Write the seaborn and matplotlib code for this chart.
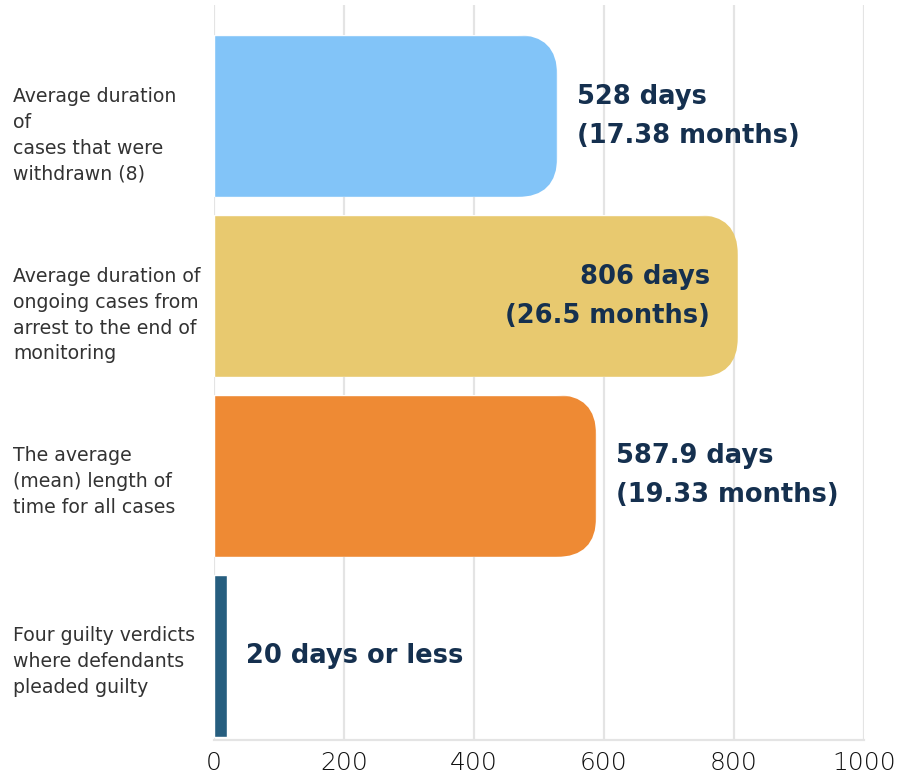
import matplotlib
matplotlib.use("Agg")
import matplotlib.pyplot as plt
from matplotlib.patches import FancyBboxPatch
from matplotlib.transforms import ScaledTranslation
import seaborn as sns
import pandas as pd

# Data
categories = [
    "Average duration\nof\ncases that were\nwithdrawn (8)",
    "Average duration of\nongoing cases from\narrest to the end of\nmonitoring",
    "The average\n(mean) length of\ntime for all cases",
    "Four guilty verdicts\nwhere defendants\npleaded guilty",
]
days = [528, 806, 587.9, 20]
value_labels = [
    "528 days\n(17.38 months)",
    "806 days\n(26.5 months)",
    "587.9 days\n(19.33 months)",
    "20 days or less",
]
colors = ["#82C4F8", "#E8C96F", "#EE8A34", "#265E7F"]
x_ticks = [0, 200, 400, 600, 800, 1000]

df = pd.DataFrame({"category": categories, "days": days})

sns.set_theme(style="white")
plt.rcParams["font.family"] = ["DejaVu Sans"]

W, H = 909, 780
fig = plt.figure(figsize=(W / 100, H / 100), dpi=100)
left_px, right_px, top_px, bottom_px = 214, 864, 5, 740
ax = fig.add_axes([left_px / W, 1 - bottom_px / H,
                   (right_px - left_px) / W, (bottom_px - top_px) / H])

sns.barplot(data=df, x="days", y="category", hue="category", palette=colors,
            orient="h", width=0.9, legend=False, ax=ax, saturation=1)

ax.set_xlim(0, 1000)
ax.set_ylim(3.467, -0.617)
ax.set_xticks(x_ticks)
ax.set_xticklabels([str(t) for t in x_ticks], fontsize=18, fontweight="light",
                   color="#111111")
ax.set_xlabel("")
ax.set_ylabel("")

# Rounded right ends on the long bars
ax_w_px = right_px - left_px
ax_h_px = bottom_px - top_px
x_per_px = 1000 / ax_w_px
y_per_px = (3.467 + 0.617) / ax_h_px
radius_px = 40
rx = radius_px * x_per_px
aspect = y_per_px / x_per_px
for patch in ax.patches:
    x0, y0 = patch.get_x(), patch.get_y()
    w, h = patch.get_width(), patch.get_height()
    if w < 3 * rx:
        continue
    clip = FancyBboxPatch((x0 - rx, y0), w + rx, h,
                          boxstyle=f"round,pad=0,rounding_size={rx}",
                          mutation_aspect=aspect, transform=ax.transData,
                          facecolor="none", edgecolor="none")
    patch.set_clip_path(clip)

# Value labels beside the bars (inside the bar when there is no room)
navy = "#15304F"
for i, (v, lab) in enumerate(zip(days, value_labels)):
    if v > 700:
        ax.annotate(lab, xy=(v, i), xytext=(-20, 0), textcoords="offset points",
                    ha="right", va="center", fontsize=18.5, fontweight="bold",
                    color=navy, linespacing=1.65)
    else:
        ax.annotate(lab, xy=(v, i), xytext=(14, 0), textcoords="offset points",
                    ha="left", va="center", fontsize=18.5, fontweight="bold",
                    color=navy, linespacing=1.65)

# Category labels, left aligned at the figure edge
ax.tick_params(axis="y", length=0, pad=(left_px - 13) * 72 / 100)
for t in ax.get_yticklabels():
    t.set_ha("left")
    t.set_fontsize(13.6)
    t.set_color("#333333")
    t.set_linespacing(1.45)
    if t.get_text().count("\n") >= 3:
        t.set_transform(t.get_transform() +
                        ScaledTranslation(0, -10 / 72, fig.dpi_scale_trans))
ax.tick_params(axis="x", length=0, pad=8)

ax.xaxis.grid(True, color="#e4e4e4", lw=1.6)
ax.yaxis.grid(False)
ax.set_axisbelow(True)
for s in ["top", "right", "left"]:
    ax.spines[s].set_visible(False)
ax.spines["bottom"].set_color("#e4e4e4")
ax.spines["bottom"].set_linewidth(1.6)

fig.savefig("out.png", dpi=100)
